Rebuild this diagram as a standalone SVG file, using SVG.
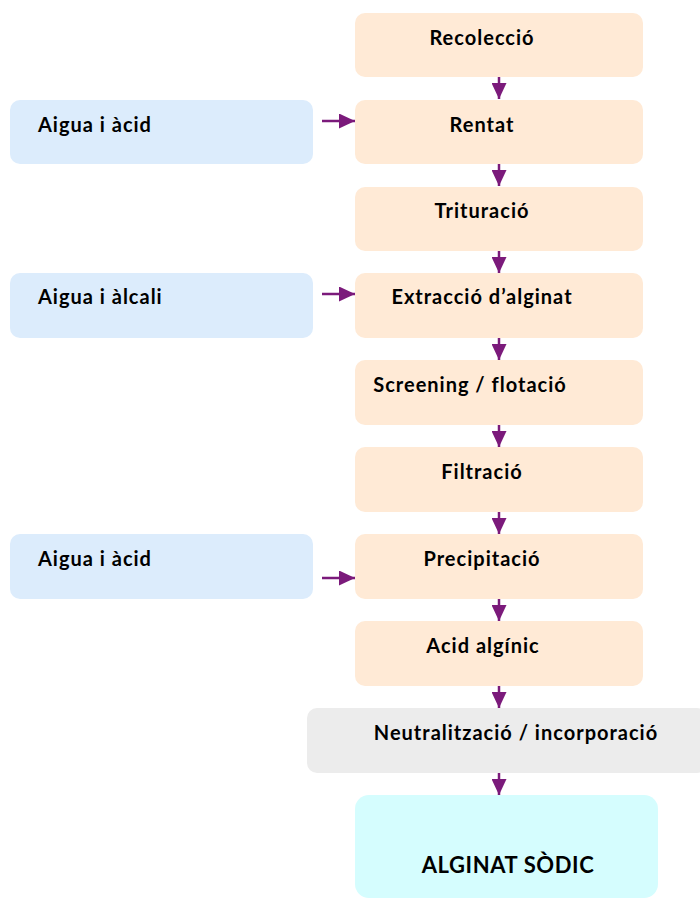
<svg xmlns="http://www.w3.org/2000/svg" width="700" height="898" viewBox="0 0 700 898">
<style>
.step{fill:#ffead6}
.input{fill:#dcecfc}
.t{font-family:Lato,"Liberation Sans",sans-serif;font-weight:bold;font-size:20px;letter-spacing:1px;fill:#000}
.c{text-anchor:middle}
.ln{stroke:#7b1a7b;stroke-width:2.5;fill:none}
</style>
<defs>
<marker id="ah" viewBox="0 0 16 15" refX="16" refY="7.5" markerWidth="16" markerHeight="15" markerUnits="userSpaceOnUse" orient="auto">
<path d="M0,0 L16,7.5 L0,15 Z" fill="#7b1a7b"/>
</marker>
</defs>
<g id="n1"><rect class="step" x="355" y="13" width="288" height="64" rx="10"/><text class="t c" x="482" y="45">Recolecció</text></g>
<g id="n2"><rect class="step" x="355" y="100" width="288" height="64" rx="10"/><text class="t c" x="482" y="132">Rentat</text></g>
<g id="n3"><rect class="step" x="355" y="187" width="288" height="64" rx="10"/><text class="t c" x="482" y="218">Trituració</text></g>
<g id="n4"><rect class="step" x="355" y="273" width="288" height="65" rx="10"/><text class="t c" x="482" y="304">Extracció d’alginat</text></g>
<g id="n5"><rect class="step" x="355" y="360" width="288" height="65" rx="10"/><text class="t c" x="470" y="392">Screening / flotació</text></g>
<g id="n6"><rect class="step" x="355" y="447" width="288" height="65" rx="10"/><text class="t c" x="482" y="479">Filtració</text></g>
<g id="n7"><rect class="step" x="355" y="534" width="288" height="65" rx="10"/><text class="t c" x="482" y="566">Precipitació</text></g>
<g id="n8"><rect class="step" x="355" y="621" width="288" height="65" rx="10"/><text class="t c" x="483" y="653">Acid algínic</text></g>
<g id="n9"><rect fill="#ececec" x="307" y="708" width="400" height="65" rx="10"/><text class="t c" x="516" y="740">Neutralització / incorporació</text></g>
<g id="n10"><rect fill="#d5fdfe" x="355" y="795" width="303" height="103" rx="14"/><text class="t c" x="508" y="873" style="font-size:22px;letter-spacing:0.6px">ALGINAT SÒDIC</text></g>
<g id="i1"><rect class="input" x="10" y="100" width="303" height="64" rx="10"/><text class="t" x="38" y="132">Aigua i àcid</text></g>
<g id="i2"><rect class="input" x="10" y="273" width="303" height="65" rx="10"/><text class="t" x="38" y="304">Aigua i àlcali</text></g>
<g id="i3"><rect class="input" x="10" y="534" width="303" height="65" rx="10"/><text class="t" x="38" y="566">Aigua i àcid</text></g>
<g id="connectors">
<line class="ln" x1="499" y1="77" x2="499" y2="99" marker-end="url(#ah)"/>
<line class="ln" x1="499" y1="164" x2="499" y2="186" marker-end="url(#ah)"/>
<line class="ln" x1="499" y1="251" x2="499" y2="273" marker-end="url(#ah)"/>
<line class="ln" x1="499" y1="338" x2="499" y2="360" marker-end="url(#ah)"/>
<line class="ln" x1="499" y1="425" x2="499" y2="447" marker-end="url(#ah)"/>
<line class="ln" x1="499" y1="512" x2="499" y2="534" marker-end="url(#ah)"/>
<line class="ln" x1="499" y1="599" x2="499" y2="621" marker-end="url(#ah)"/>
<line class="ln" x1="499" y1="686" x2="499" y2="708" marker-end="url(#ah)"/>
<line class="ln" x1="499" y1="773" x2="499" y2="795" marker-end="url(#ah)"/>
<line class="ln" x1="322" y1="121" x2="355" y2="121" marker-end="url(#ah)"/>
<line class="ln" x1="322" y1="294" x2="355" y2="294" marker-end="url(#ah)"/>
<line class="ln" x1="322" y1="578" x2="355" y2="578" marker-end="url(#ah)"/>
</g>
</svg>
